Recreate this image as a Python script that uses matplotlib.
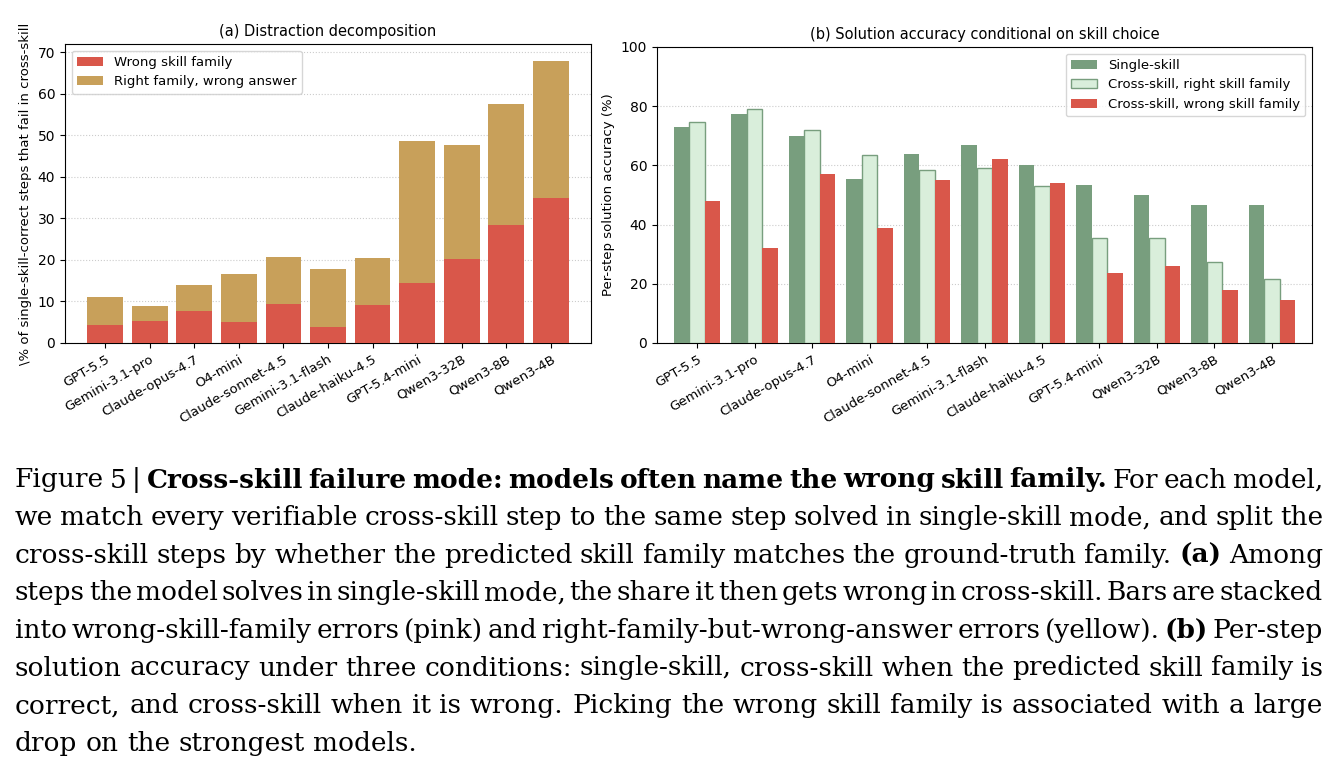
import matplotlib
matplotlib.use("Agg")
import matplotlib.pyplot as plt
import numpy as np

models = ["GPT-5.5", "Gemini-3.1-pro", "Claude-opus-4.7", "O4-mini", "Claude-sonnet-4.5",
          "Gemini-3.1-flash", "Claude-haiku-4.5", "GPT-5.4-mini", "Qwen3-32B", "Qwen3-8B", "Qwen3-4B"]
wrong_family = [4.3, 5.3, 7.7, 5.0, 9.4, 3.8, 9.2, 14.5, 20.2, 28.3, 34.8]
total_fail = [11.0, 9.0, 14.0, 16.5, 20.8, 17.8, 20.5, 48.7, 47.7, 57.5, 68.0]
right_family_wrong = [t - w for t, w in zip(total_fail, wrong_family)]

single_skill = [73, 77.5, 70, 55.5, 64, 67, 60, 53.5, 50, 46.5, 46.5]
cross_right = [74.5, 79, 72, 63.5, 58.5, 59, 53, 35.5, 35.5, 27.5, 21.5]
cross_wrong = [48, 32, 57, 39, 55, 62, 54, 23.5, 26, 18, 14.5]

RED = "#d9574a"; TAN = "#c8a05a"; GREEN = "#789e7e"; LGREEN = "#d9eedb"

fig = plt.figure(figsize=(13.41, 7.68), dpi=100)
W, H = 1341, 768
ax1 = fig.add_axes([65/W, 1-343/H, 526/W, 299/H])
ax2 = fig.add_axes([657/W, 1-343/H, 655/W, 296/H])

x = np.arange(len(models))
ax1.bar(x, wrong_family, 0.8, color=RED, label="Wrong skill family", zorder=3)
ax1.bar(x, right_family_wrong, 0.8, bottom=wrong_family, color=TAN, label="Right family, wrong answer", zorder=3)
ax1.set_ylim(0, 72)
ax1.set_yticks(range(0, 71, 10))
ax1.set_xlim(-0.9, len(models)-0.1)
ax1.set_ylabel("\\% of single-skill-correct steps that fail in cross-skill", fontsize=9.5)
ax1.set_title("(a) Distraction decomposition", fontsize=10.5)
ax1.legend(loc="upper left", fontsize=9.5)

w = 0.27
ax2.bar(x-w, single_skill, w, color=GREEN, label="Single-skill", zorder=3)
ax2.bar(x, cross_right, w, color=LGREEN, edgecolor=GREEN, linewidth=1, label="Cross-skill, right skill family", zorder=3)
ax2.bar(x+w, cross_wrong, w, color=RED, label="Cross-skill, wrong skill family", zorder=3)
ax2.set_ylim(0, 100)
ax2.set_xlim(-0.7, len(models)-0.3)
ax2.set_ylabel("Per-step solution accuracy (%)", fontsize=9.5)
ax2.set_title("(b) Solution accuracy conditional on skill choice", fontsize=10.5)
ax2.legend(loc="upper right", fontsize=9.5)

for ax in (ax1, ax2):
    ax.set_xticks(x)
    ax.set_xticklabels(models, rotation=30, ha="right", rotation_mode="anchor", fontsize=9.5)
    ax.tick_params(axis="y", labelsize=10)
    ax.grid(axis="y", linestyle=":", color="#cccccc", zorder=0)

lines = [
    [("Figure 5 | ", False), ("Cross-skill failure mode: models often name the wrong skill family.", True), (" For each model,", False)],
    [("we match every verifiable cross-skill step to the same step solved in single-skill mode, and split the", False)],
    [("cross-skill steps by whether the predicted skill family matches the ground-truth family.", False), (" (a)", True), (" Among", False)],
    [("steps the model solves in single-skill mode, the share it then gets wrong in cross-skill. Bars are stacked", False)],
    [("into wrong-skill-family errors (pink) and right-family-but-wrong-answer errors (yellow).", False), (" (b)", True), (" Per-step", False)],
    [("solution accuracy under three conditions: single-skill, cross-skill when the predicted skill family is", False)],
    [("correct, and cross-skill when it is wrong. Picking the wrong skill family is associated with a large", False)],
    [("drop on the strongest models.", False)],
]
x0, x1 = 15, 1323
fs = 19
fam = "DejaVu Serif"
renderer = fig.canvas.get_renderer()

def wwidth(word, bold):
    t = fig.text(0, 0, word, fontsize=fs, family=fam, weight="bold" if bold else "normal")
    bb = t.get_window_extent(renderer)
    t.remove()
    return bb.width

for i, segs in enumerate(lines):
    yc = 480 + i*37.6
    words = []
    for s, b in segs:
        for wd in s.split():
            words.append((wd, b))
    widths = [wwidth(wd, b) for wd, b in words]
    last = (i == len(lines)-1)
    if last:
        gap = wwidth("a b", False) - wwidth("ab", False)
    else:
        gap = (x1 - x0 - sum(widths)) / (len(words)-1)
    cx = x0
    for (wd, b), wv in zip(words, widths):
        fig.text(cx/W, 1-yc/H, wd, fontsize=fs, family=fam, weight="bold" if b else "normal",
                 va="center", ha="left")
        cx += wv + gap

fig.savefig("out.png", dpi=100)
